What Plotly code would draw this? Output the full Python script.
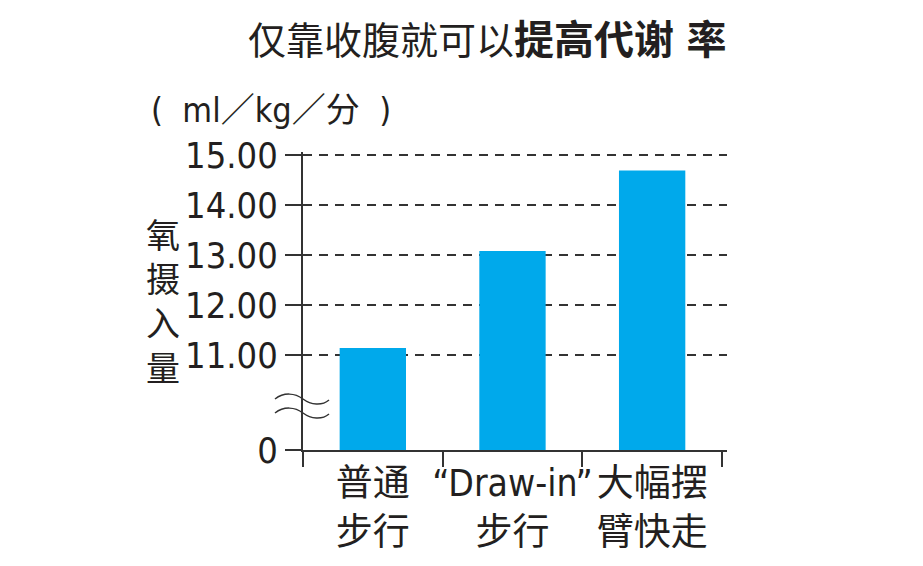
import plotly.graph_objects as go

# ---- data ----
categories = ["普通<br>步行", "“Draw-in”<br>步行", "大幅摆<br>臂快走"]
values = [11.14, 13.08, 14.69]
tick_values = [11, 12, 13, 14, 15]
tick_labels = ["11.00", "12.00", "13.00", "14.00", "15.00"]
zero_label = "0"

# ---- layout constants ----
W, H = 923, 566
OFF = 8                      # page body margin of the rendered html
BREAK_POS = 9.1              # display position of the "0" below the axis break
Y_TOP = 15.06
UNIT = 50                    # px per value unit
PLOT_L, PLOT_R = 303, 727    # target pixel extents (page coords)
PLOT_BOTTOM = 450
PLOT_TOP = PLOT_BOTTOM - (Y_TOP - BREAK_POS) * UNIT
L = PLOT_L - OFF
T = PLOT_TOP - OFF
pw = PLOT_R - PLOT_L
ph = PLOT_BOTTOM - PLOT_TOP
R = W - L - pw
B = H - T - ph
BAR_COLOR = "#00A9EB"
INK = "#231F20"
FONT = "DejaVu Sans Condensed, Noto Sans CJK SC, sans-serif"


def px(x, y):
    return (x - PLOT_L) / pw, (PLOT_BOTTOM - y) / ph


def wave(y0):
    pts = [(275, y0), (284, y0 - 7), (295, y0 - 6), (303, y0),
           (311, y0 + 6), (322, y0 + 7), (329, y0 + 1)]
    p = [px(*q) for q in pts]
    return (f"M {p[0][0]},{p[0][1]} C {p[1][0]},{p[1][1]} {p[2][0]},{p[2][1]} {p[3][0]},{p[3][1]} "
            f"C {p[4][0]},{p[4][1]} {p[5][0]},{p[5][1]} {p[6][0]},{p[6][1]}")


fig = go.Figure(go.Bar(x=categories, y=values, marker_color=BAR_COLOR,
                       marker_line_width=0, width=0.475))

fig.update_layout(
    width=W, height=H, margin=dict(l=L, r=R, t=T, b=B, autoexpand=False),
    paper_bgcolor="white", plot_bgcolor="white", showlegend=False,
    font=dict(family=FONT, color=INK),
)
fig.update_xaxes(
    range=[-0.5, 2.536], showline=True, linecolor="#333", linewidth=2,
    ticks="outside", tickson="boundaries", ticklen=15, tickwidth=1.5, tickcolor="#333",
    tickfont=dict(size=37, family=FONT, color=INK), showgrid=False,
    tickangle=0, automargin=False,
)
fig.update_yaxes(
    range=[BREAK_POS, Y_TOP], showline=True, linecolor="#333", linewidth=2,
    tickvals=[BREAK_POS] + tick_values, ticktext=[zero_label] + tick_labels,
    ticks="outside", ticklen=16, tickwidth=1.5, tickcolor="#333",
    tickfont=dict(size=36, family=FONT, color=INK),
    showgrid=True, gridcolor="#333", gridwidth=1.5, griddash="9px,7px",
    zeroline=False, automargin=False,
)

for y0 in (399, 413):
    fig.add_shape(type="path", path=wave(y0), xref="paper", yref="paper",
                  line=dict(color="#333", width=1.5))

ann = [
    dict(text="仅靠收腹就可以<span style='font-size:40px'><b>提高代谢 率</b></span>",
         x=487, y=40, size=38),
    dict(text="(  ml／kg／分  )", x=271, y=110, size=34),
    dict(text="氧<br>摄<br>入<br>量", x=163, y=302, size=34),
]
for a in ann:
    xp, yp = px(a["x"], a["y"])
    fig.add_annotation(text=a["text"], x=xp, y=yp, xref="paper", yref="paper",
                       showarrow=False, xanchor="center", yanchor="middle",
                       font=dict(size=a["size"], family=FONT, color=INK))

fig.write_html("out.html")
